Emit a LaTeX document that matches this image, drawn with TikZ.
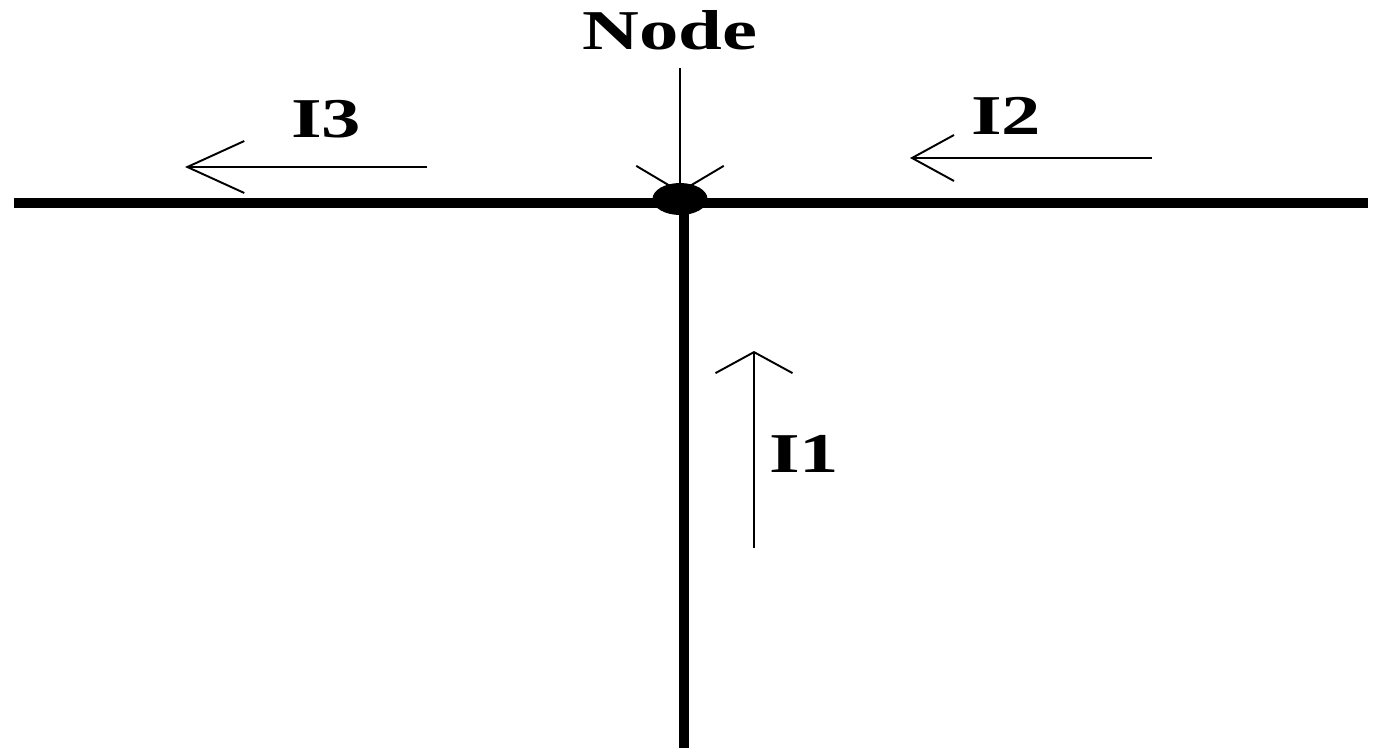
\documentclass[tikz,border=0pt]{standalone}
\usepackage{fontspec}
\setmainfont{Liberation Serif}
\usepackage{tikz}
\usetikzlibrary{arrows.meta,shapes.geometric}

\begin{document}
\begin{tikzpicture}[
    x=0.02cm, y=-0.02cm,
    wire/.style={
        draw=black,
        line width=5.5pt
    },
    flow/.style 2 args={
        draw=black,
        line width=1.1pt,
        -{Straight Barb[length=#1, width=#2, line width=1.1pt]}
    },
    lbl/.style={
        font=\bfseries\fontsize{32}{32}\selectfont,
        inner sep=0pt,
        xscale=1.4,
        transform shape
    }
]
\useasboundingbox (0,0) rectangle (1383,753);

\node[ellipse, fill=black, minimum width=1.1cm, minimum height=0.64cm, inner sep=0pt] (junc) at (680,199) {};

\coordinate (west) at (14,203);
\coordinate (east) at (1368,203);
\coordinate (south) at (684,748);

\draw[wire] (west)--(east);
\draw[wire] (junc.center -| south)--(south);

\node[lbl] (nodelbl) at (670,30) {Node};
\coordinate (intop) at (680,68);
\draw[flow={0.52cm}{1.75cm}, shorten >=0.12cm] (intop)--(junc.center);

\node[lbl] (i3) at (326,119) {I3};
\coordinate (i3tail) at (427,167);
\coordinate (i3head) at (185,167);
\draw[flow={1.14cm}{1.04cm}] (i3tail)--(i3head);

\node[lbl] (i2) at (1006,116) {I2};
\coordinate (i2tail) at (1152,158);
\coordinate (i2head) at (910,158);
\draw[flow={0.84cm}{0.92cm}] (i2tail)--(i2head);

\node[lbl] (i1) at (804,454) {I1};
\coordinate (i1tail) at (754,548);
\coordinate (i1head) at (754,351);
\draw[flow={0.42cm}{1.54cm}] (i1tail)--(i1head);

\end{tikzpicture}
\end{document}
